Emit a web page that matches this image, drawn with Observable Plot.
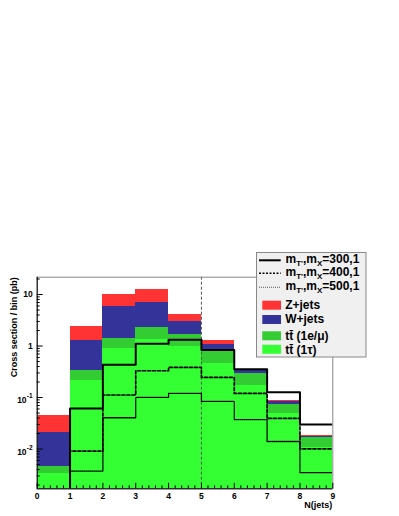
<!DOCTYPE html>
<html>
<head>
<meta charset="utf-8">
<script src="https://cdn.jsdelivr.net/npm/d3@7"></script>
<script src="https://cdn.jsdelivr.net/npm/@observablehq/plot@0.6"></script>
<style>
  html, body { margin: 0; padding: 0; background: #fff; }
  #chart svg { display: block; }
</style>
</head>
<body>
<div id="chart"></div>
<script>
// ---- data ----
const binLow = [0, 1, 2, 3, 4, 5, 6, 7, 8];          // N(jets) bin lower edges
const ttTau  = [0.0033, 0.21, 0.90, 1.33, 0.97, 0.46, 0.17, 0.048, 0.0107];   // tt (1tau)
const ttLep  = [0.0012, 0.13, 0.53, 0.91, 0.69, 0.415, 0.125, 0.0245, 0.0061]; // tt (1e/mu)
const wJets  = [0.016, 0.93, 4.44, 4.91, 1.34, 0.215, 0.037, 0.0103, 0.0007];  // W+jets
const zJets  = [0.025, 1.10, 4.33, 5.25, 1.05, 0.18, 0.020, 0.0039, 0.0006];   // Z+jets
const sig300 = [0, 0.0614, 0.434, 1.11, 1.33, 0.836, 0.355, 0.126, 0.030];
const sig400 = [0, 0.00914, 0.112, 0.331, 0.384, 0.246, 0.120, 0.0393, 0.0101];
const sig500 = [0, 0.00374, 0.0405, 0.1005, 0.120, 0.084, 0.0374, 0.0140, 0.00347];
const sigMasses = ["300,1", "400,1", "500,1"];
const procNames = ["Z+jets", "W+jets", "tt\u0304 (1e/\u03bc)", "tt\u0304 (1\u03c4)"];
const xTickVals = [0, 1, 2, 3, 4, 5, 6, 7, 8, 9];
const yTickVals = [0.01, 0.1, 1, 10];
const yTickBase = ["10", "10", "1", "10"];
const yTickSup  = ["-2", "-1", "", ""];
const cutValue = 5;
const yTitle = "Cross section / bin (pb)";
const xTitle = "N(jets)";

// ---- layout / style ----
const FONT = "'Liberation Sans', Arial, Helvetica, sans-serif";
const W = 399, H = 516;
const mL = 36.7, mR = 66.7, mT = 276.7, mB = 27.7;
const frameW = W - mL - mR, frameH = H - mT - mB;
const yMin = 0.00169, yMax = 21.7;
const floorV = yMin / 10;
const colors = { tau: "#33ff33", lep: "#33cc33", w: "#333399", z: "#ff3333" };

// stacked rectangles
const procs = [
  { vals: ttTau, color: colors.tau },
  { vals: ttLep, color: colors.lep },
  { vals: wJets, color: colors.w },
  { vals: zJets, color: colors.z }
];
const base = binLow.map(() => 0);
const stacked = procs.map(p => binLow.map((lo, i) => {
  const y1 = base[i], y2 = base[i] + p.vals[i];
  base[i] = y2;
  return { x1: lo, x2: lo + 1, y1: y1 > 0 ? y1 : floorV, y2 };
}));

function stepPts(vals) {
  const pts = binLow.map((lo, i) => ({ x: lo, y: vals[i] > 0 ? vals[i] : floorV }));
  pts.push({ x: binLow[binLow.length - 1] + 1, y: pts[pts.length - 1].y });
  return pts;
}

const xMinor = d3.range(0, 9.001, 0.2).map(v => +v.toFixed(2)).filter(v => Math.abs(v - Math.round(v)) > 1e-6);
const yMinor = [];
for (let e = -3; e <= 1; e++) for (let k = 2; k <= 9; k++) {
  const v = k * Math.pow(10, e);
  if (v > yMin && v < yMax) yMinor.push(v);
}
const yLab = yTickVals.map((v, i) => ({ v, base: yTickBase[i], sup: yTickSup[i] }));

const marks = [];
stacked.forEach((data, j) => {
  marks.push(Plot.rect(data, { x1: "x1", x2: "x2", y1: "y1", y2: "y2", fill: procs[j].color, clip: true, shapeRendering: "crispEdges" }));
});
marks.push(Plot.ruleX([cutValue], { stroke: "#555", strokeWidth: 1, strokeDasharray: "3,2" }));
marks.push(Plot.line(stepPts(sig500), { x: "x", y: "y", curve: "step-after", stroke: "#000", strokeWidth: 1.3, strokeDasharray: "1,1", clip: true }));
marks.push(Plot.line(stepPts(sig400), { x: "x", y: "y", curve: "step-after", stroke: "#000", strokeWidth: 1.7, strokeDasharray: "3,2", clip: true }));
marks.push(Plot.line(stepPts(sig300), { x: "x", y: "y", curve: "step-after", stroke: "#000", strokeWidth: 2, clip: true }));
// frame + axes
marks.push(Plot.frame({ stroke: "#888" }));
marks.push(Plot.ruleX([0], { stroke: "#000" }));
marks.push(Plot.ruleY([yMin], { stroke: "#000" }));
marks.push(Plot.tickX(xMinor, { x: d => d, insetTop: frameH - 3, stroke: "#000" }));
marks.push(Plot.tickX(xTickVals, { x: d => d, insetTop: frameH - 5.5, stroke: "#000" }));
marks.push(Plot.tickY(yMinor, { y: d => d, insetRight: frameW - 3, stroke: "#000" }));
marks.push(Plot.tickY(yTickVals, { y: d => d, insetRight: frameW - 6, stroke: "#000" }));
// tick labels
marks.push(Plot.text(xTickVals, { x: d => d, frameAnchor: "bottom", dy: 7.4, text: d => String(d), fontSize: 8.5, fontWeight: "bold", fill: "#000", lineAnchor: "middle" }));
marks.push(Plot.text(yLab.filter(d => !d.sup), { y: "v", frameAnchor: "left", dx: -4.4, text: "base", textAnchor: "end", fontSize: 8.5, fontWeight: "bold", fill: "#000", lineAnchor: "middle" }));
marks.push(Plot.text(yLab.filter(d => d.sup), { y: "v", frameAnchor: "left", dx: -10.6, dy: 2.8, text: "base", textAnchor: "end", fontSize: 8.5, fontWeight: "bold", fill: "#000", lineAnchor: "middle" }));
marks.push(Plot.text(yLab.filter(d => d.sup), { y: "v", frameAnchor: "left", dx: -10.4, dy: -1.2, text: "sup", textAnchor: "start", fontSize: 6.5, fontWeight: "bold", fill: "#000", lineAnchor: "middle" }));
// titles
marks.push(Plot.text([xTitle], { frameAnchor: "bottom-right", dy: 16.5, dx: -0.5, text: d => d, textAnchor: "end", fontSize: 9, fontWeight: "bold", fill: "#000", lineAnchor: "middle" }));
marks.push(Plot.text([yTitle], { frameAnchor: "top-left", dx: -23.2, dy: 0, rotate: -90, text: d => d, textAnchor: "end", fontSize: 9, fontWeight: "bold", fill: "#000", lineAnchor: "middle" }));

const chart = Plot.plot({
  width: W, height: H,
  marginLeft: mL, marginRight: mR, marginTop: mT, marginBottom: mB,
  x: { domain: [0, 9], axis: null },
  y: { type: "log", domain: [yMin, yMax], axis: null },
  style: { fontFamily: FONT, background: "#fff", overflow: "visible" },
  marks
});
document.getElementById("chart").appendChild(chart);

// ---- legend (overlapping the frame's top-right corner) ----
const svg = d3.select(chart);
const lg = svg.append("g").attr("font-family", FONT).attr("font-weight", "bold")
  .attr("fill", "#000").attr("text-anchor", "start");
lg.append("rect").attr("x", 256.5).attr("y", 252.5).attr("width", 109.5).attr("height", 104.5)
  .attr("fill", "#f0f0f0").attr("stroke", "#888").attr("stroke-width", 1);

const lineStyles = [
  { w: 2, dash: null, color: "#000" },
  { w: 1.5, dash: "2,1.5", color: "#000" },
  { w: 1.1, dash: "1,1", color: "#555" }
];
const lineRowY = [260.3, 273.3, 287.3];
sigMasses.forEach((m, i) => {
  const y = lineRowY[i];
  const ln = lg.append("line").attr("x1", 259).attr("x2", 280.7).attr("y1", y).attr("y2", y)
    .attr("stroke", lineStyles[i].color).attr("stroke-width", lineStyles[i].w);
  if (lineStyles[i].dash) ln.attr("stroke-dasharray", lineStyles[i].dash);
  const t = lg.append("text").attr("x", 285.5).attr("y", y + 3.1).attr("font-size", 12).attr("text-anchor", "start");
  t.append("tspan").text("m");
  t.append("tspan").attr("font-size", 8).attr("dy", 3).text("T'");
  t.append("tspan").attr("dy", -3).text(",m");
  t.append("tspan").attr("font-size", 8).attr("dy", 3).text("X");
  t.append("tspan").attr("dy", -3).text("=" + m);
});

const boxRows = [
  { top: 300.7, color: colors.z },
  { top: 315, color: colors.w },
  { top: 331.3, color: colors.lep },
  { top: 344.8, color: colors.tau }
];
const boxBase = [309.2, 323.4, 339.6, 354];
procNames.forEach((name, i) => {
  lg.append("rect").attr("x", 262.3).attr("y", boxRows[i].top).attr("width", 18.7).attr("height", 9)
    .attr("fill", boxRows[i].color);
  lg.append("text").attr("x", 285.2).attr("y", boxBase[i]).attr("font-size", 12).attr("text-anchor", "start").text(name);
});
</script>
</body>
</html>
